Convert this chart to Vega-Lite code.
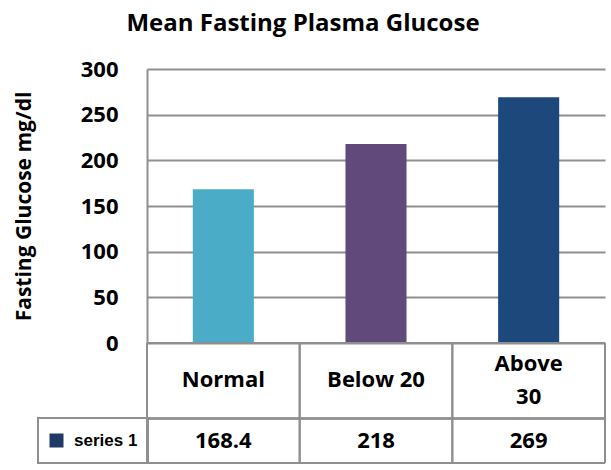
{
  "$schema": "https://vega.github.io/schema/vega-lite/v6.json",
  "width": 458,
  "height": 274,
  "autosize": "none",
  "padding": {"left": 147, "top": 69, "right": 6, "bottom": 127},
  "background": "white",
  "config": {"view": {"stroke": null}, "font": "Open Sans"},
  "title": {
    "text": "Mean Fasting Plasma Glucose",
    "font": "Open Sans",
    "fontSize": 24,
    "fontWeight": "bold",
    "color": "black",
    "anchor": "middle",
    "frame": "group",
    "dx": -73,
    "offset": 22
  },
  "data": {
    "values": [
      {"group": "Normal", "label": "Normal", "glucose": 168.4},
      {"group": "Below 20", "label": "Below 20", "glucose": 218},
      {"group": "Above 30", "label": "Above\n30", "glucose": 269}
    ]
  },
  "layer": [
    {
      "mark": {"type": "bar"},
      "encoding": {
        "x": {"field": "group", "type": "nominal", "sort": null, "scale": {"paddingInner": 0.6, "paddingOuter": 0.3}, "axis": null},
        "y": {
          "field": "glucose",
          "type": "quantitative",
          "scale": {"domain": [0, 300], "nice": false, "zero": true},
          "axis": {
            "values": [0, 50, 100, 150, 200, 250, 300],
            "grid": true,
            "gridColor": "#8f8f8f",
            "gridWidth": 2,
            "domain": true,
            "domainColor": "#8f8f8f",
            "domainWidth": 2,
            "ticks": false,
            "labelFont": "Open Sans",
            "labelFontSize": 22,
            "labelFontWeight": "bold",
            "labelColor": "black",
            "labelPadding": 29,
            "labelFlush": false,
            "title": "Fasting Glucose mg/dl",
            "titleFont": "Open Sans",
            "titleFontSize": 21,
            "titleFontWeight": "bold",
            "titleColor": "black",
            "titlePadding": 46
          }
        },
        "color": {
          "field": "group",
          "type": "nominal",
          "sort": null,
          "scale": {"domain": ["Normal", "Below 20", "Above 30"], "range": ["#4aacc6", "#614a7b", "#1c487c"]},
          "legend": null
        }
      }
    },
    {
      "layer": [
        {
          "mark": {"type": "rule", "color": "#8f8f8f", "strokeWidth": 2},
          "encoding": {
            "x": {"field": "group", "type": "nominal", "sort": null, "bandPosition": 0, "scale": {"paddingInner": 0, "paddingOuter": 0}, "axis": null},
            "y": {"datum": 0, "type": "quantitative", "scale": {"domain": [0, 300], "nice": false}},
            "y2": {"datum": -131.4}
          }
        },
        {
          "mark": {"type": "rule", "color": "#8f8f8f", "strokeWidth": 2},
          "encoding": {
            "x": {"field": "group", "type": "nominal", "sort": null, "bandPosition": 1, "scale": {"paddingInner": 0, "paddingOuter": 0}, "axis": null},
            "y": {"datum": 0, "type": "quantitative", "scale": {"domain": [0, 300], "nice": false}},
            "y2": {"datum": -131.4}
          }
        },
        {
          "mark": {"type": "rule", "color": "#8f8f8f", "strokeWidth": 2},
          "encoding": {"y": {"datum": 0, "type": "quantitative", "scale": {"domain": [0, 300], "nice": false}}}
        },
        {
          "mark": {"type": "rule", "color": "#8f8f8f", "strokeWidth": 2},
          "encoding": {"y": {"datum": -82.7, "type": "quantitative", "scale": {"domain": [0, 300], "nice": false}}}
        },
        {
          "mark": {"type": "rule", "color": "#8f8f8f", "strokeWidth": 2},
          "encoding": {"y": {"datum": -131.4, "type": "quantitative", "scale": {"domain": [0, 300], "nice": false}}}
        },
        {
          "transform": [{"filter": "indexof(datum.label, '\\n') < 0"}],
          "mark": {"type": "text", "font": "Open Sans", "fontSize": 22, "fontWeight": "bold", "baseline": "middle", "align": "center", "color": "black"},
          "encoding": {
            "x": {"field": "group", "type": "nominal", "sort": null, "scale": {"paddingInner": 0, "paddingOuter": 0}, "axis": null},
            "y": {"datum": -41, "type": "quantitative", "scale": {"domain": [0, 300], "nice": false}},
            "text": {"field": "label", "type": "nominal"}
          }
        },
        {
          "transform": [{"filter": "indexof(datum.label, '\\n') >= 0"}],
          "mark": {"type": "text", "font": "Open Sans", "fontSize": 22, "fontWeight": "bold", "lineBreak": "\n", "lineHeight": 33, "baseline": "middle", "align": "center", "color": "black", "dy": -16.5},
          "encoding": {
            "x": {"field": "group", "type": "nominal", "sort": null, "scale": {"paddingInner": 0, "paddingOuter": 0}, "axis": null},
            "y": {"datum": -41, "type": "quantitative", "scale": {"domain": [0, 300], "nice": false}},
            "text": {"field": "label", "type": "nominal"}
          }
        },
        {
          "mark": {"type": "text", "font": "Open Sans", "fontSize": 22, "fontWeight": "bold", "baseline": "middle", "align": "center", "color": "black"},
          "encoding": {
            "x": {"field": "group", "type": "nominal", "sort": null, "scale": {"paddingInner": 0, "paddingOuter": 0}, "axis": null},
            "y": {"datum": -107.3, "type": "quantitative", "scale": {"domain": [0, 300], "nice": false}},
            "text": {"field": "glucose", "type": "quantitative"}
          }
        },
        {
          "mark": {"type": "square", "opacity": 0},
          "encoding": {
            "x": {"field": "group", "type": "nominal", "sort": null, "scale": {"paddingInner": 0, "paddingOuter": 0}, "axis": null},
            "y": {"datum": -107.3, "type": "quantitative", "scale": {"domain": [0, 300], "nice": false}},
            "color": {
              "datum": "series 1",
              "type": "nominal",
              "scale": {"range": ["#1f3a64"]},
              "legend": {
                "orient": "none",
                "legendX": -109,
                "legendY": 349,
                "title": null,
                "symbolType": "square",
                "symbolSize": 196,
                "symbolOpacity": 1,
                "symbolStrokeWidth": 0,
                "labelFont": "Liberation Sans",
                "labelFontSize": 17,
                "labelFontWeight": "bold",
                "labelColor": "black",
                "labelOffset": 9,
                "padding": 10,
                "clipHeight": 25,
                "strokeColor": "#8f8f8f",
                "encode": {"legend": {"update": {"strokeWidth": {"value": 2}}}}
              }
            }
          }
        }
      ]
    }
  ],
  "resolve": {"scale": {"x": "independent", "color": "independent"}}
}
